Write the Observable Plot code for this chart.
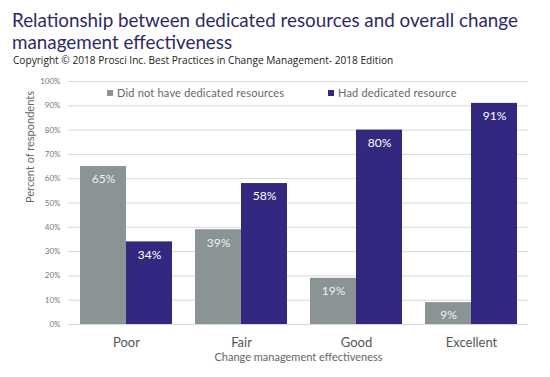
<!DOCTYPE html>
<html>
<head>
<meta charset="utf-8">
<script src="https://cdn.jsdelivr.net/npm/d3@7"></script>
<script src="https://cdn.jsdelivr.net/npm/@observablehq/plot@0.6"></script>
<style>
  body { margin:0; background:#fff; }
  #wrap { position:relative; width:550px; height:377px; overflow:hidden; font-family: Lato, sans-serif; }
  #title { position:absolute; left:12px; top:8px; font-family: Lato, sans-serif; font-size:20px; line-height:22px; color:#2e2a66; white-space:nowrap; transform:scaleX(0.94); transform-origin:0 0; }
  #sub { position:absolute; left:13px; top:53px; font-family: "Open Sans", sans-serif; font-size:11px; line-height:14px; color:#222; white-space:nowrap; transform:scaleX(0.92); transform-origin:0 0; }
  #chart { position:absolute; left:0; top:68px; }
  .leg { position:absolute; top:86px; font-size:11px; color:#666; white-space:nowrap; display:flex; align-items:center; letter-spacing:0.2px; }
  .sw { display:inline-block; width:6px; height:6px; margin-right:4px; }
</style>
</head>
<body>
<div id="wrap">
  <div id="title">Relationship between dedicated resources and overall change<br>management effectiveness</div>
  <div id="sub">Copyright © 2018 Prosci Inc. Best Practices in Change Management- 2018 Edition</div>
  <div id="chart"></div>
  <div class="leg" style="left:107px"><span class="sw" style="background:#8b9494"></span>Did not have dedicated resources</div>
  <div class="leg" style="left:328px"><span class="sw" style="background:#33287f"></span>Had dedicated resource</div>
</div>
<script>
const categories = ["Poor", "Fair", "Good", "Excellent"];
const series = ["Did not have dedicated resources", "Had dedicated resource"];
const noDedicated = [65, 39, 19, 9];
const hadDedicated = [34, 58, 80, 91];
const yTicks = [0, 10, 20, 30, 40, 50, 60, 70, 80, 90, 100];
const colors = ["#8b9494", "#33287f"];

const rowsA = categories.map((c, i) => ({cat: c, value: noDedicated[i]}));
const rowsB = categories.map((c, i) => ({cat: c, value: hadDedicated[i]}));

const W = 550, H = 309, mL = 68, mR = 22;
const step = (W - mL - mR) / (categories.length - 0.2 + 0.2);
const bw = step * 0.8;
const half = bw / 2;

const chart = Plot.plot({
  width: W,
  height: H,
  marginTop: 13,
  marginBottom: 53,
  marginLeft: mL,
  marginRight: mR,
  style: {fontFamily: "Lato, sans-serif", background: "transparent"},
  x: {domain: categories, paddingInner: 0.2, paddingOuter: 0.1},
  y: {domain: [0, 100]},
  marks: [
    Plot.gridY(yTicks, {stroke: "#d9d9d9", strokeOpacity: 1}),
    Plot.axisY(yTicks, {tickSize: 0, tickPadding: 8, tickFormat: d => d + "%", fontSize: 8, fill: "#777", label: null}),
    Plot.barY(rowsA, {x: "cat", y: "value", fill: colors[0], insetRight: half}),
    Plot.barY(rowsB, {x: "cat", y: "value", fill: colors[1], insetLeft: half}),
    Plot.text(rowsA, {x: "cat", y: "value", text: d => d.value + "%", dx: -half / 2, dy: 13, fill: "#eef0f0", fontSize: 12}),
    Plot.text(rowsB, {x: "cat", y: "value", text: d => d.value + "%", dx: half / 2, dy: 13, fill: "#ffffff", fontSize: 12}),
    Plot.axisX({anchor: "bottom", tickSize: 0, tickPadding: 13, fontSize: 13, fill: "#555", label: null}),
    Plot.text(["Change management effectiveness"], {frameAnchor: "bottom", dy: 36, fontSize: 11, fill: "#666"}),
    Plot.text(["Percent of respondents"], {frameAnchor: "left", rotate: -90, dx: -38, fontSize: 11, fill: "#666"})
  ]
});
document.getElementById("chart").appendChild(chart);
</script>
</body>
</html>
